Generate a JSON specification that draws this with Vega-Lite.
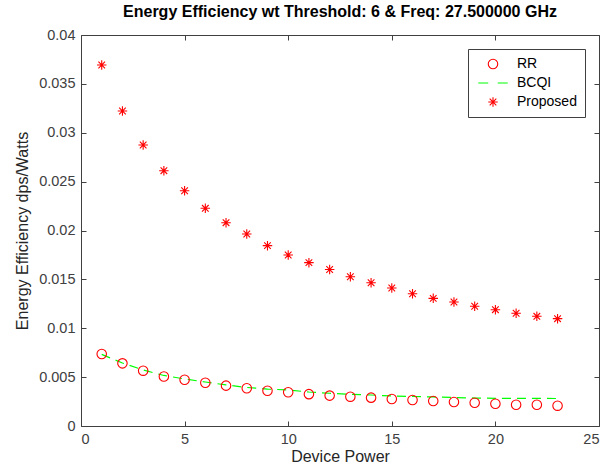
{
  "$schema": "https://vega.github.io/schema/vega-lite/v6.json",
  "width": 518,
  "height": 391,
  "autosize": {"type": "none"},
  "padding": {"left": 81, "top": 35, "right": 9, "bottom": 49},
  "background": "white",
  "config": {
    "view": {"stroke": null},
    "font": "Liberation Sans",
    "axis": {
      "grid": false,
      "domainColor": "#404040",
      "tickColor": "#404040",
      "labelColor": "#404040",
      "titleColor": "#262626",
      "labelFont": "Liberation Sans",
      "titleFont": "Liberation Sans",
      "labelFontSize": 14.5,
      "titleFontSize": 16,
      "titleFontWeight": "normal",
      "tickSize": -5,
      "labelPadding": 11
    },
    "legend": {
      "title": null,
      "orient": "top-right",
      "offset": 14,
      "padding": 7,
      "rowPadding": 5,
      "labelFontSize": 14,
      "labelFont": "Liberation Sans",
      "labelColor": "#000000",
      "strokeColor": "#404040",
      "fillColor": "#ffffff",
      "symbolSize": 90,
      "symbolStrokeWidth": 1.1
    }
  },
  "title": {
    "text": "Energy Efficiency wt Threshold: 6 & Freq: 27.500000 GHz",
    "font": "Liberation Sans",
    "fontSize": 16,
    "fontWeight": "bold",
    "color": "#000000",
    "offset": 7
  },
  "data": {
    "values": [
      {"p": 1, "series": "RR", "ee": 0.00737},
      {"p": 2, "series": "RR", "ee": 0.00641},
      {"p": 3, "series": "RR", "ee": 0.00566},
      {"p": 4, "series": "RR", "ee": 0.00506},
      {"p": 5, "series": "RR", "ee": 0.00473},
      {"p": 6, "series": "RR", "ee": 0.00443},
      {"p": 7, "series": "RR", "ee": 0.00413},
      {"p": 8, "series": "RR", "ee": 0.00386},
      {"p": 9, "series": "RR", "ee": 0.00360},
      {"p": 10, "series": "RR", "ee": 0.00345},
      {"p": 11, "series": "RR", "ee": 0.00326},
      {"p": 12, "series": "RR", "ee": 0.00311},
      {"p": 13, "series": "RR", "ee": 0.00300},
      {"p": 14, "series": "RR", "ee": 0.00290},
      {"p": 15, "series": "RR", "ee": 0.00276},
      {"p": 16, "series": "RR", "ee": 0.00266},
      {"p": 17, "series": "RR", "ee": 0.00256},
      {"p": 18, "series": "RR", "ee": 0.00246},
      {"p": 19, "series": "RR", "ee": 0.00238},
      {"p": 20, "series": "RR", "ee": 0.00228},
      {"p": 21, "series": "RR", "ee": 0.00218},
      {"p": 22, "series": "RR", "ee": 0.00218},
      {"p": 23, "series": "RR", "ee": 0.00208},
      {"p": 1, "series": "BCQI", "ee": 0.00733},
      {"p": 2, "series": "BCQI", "ee": 0.00644},
      {"p": 3, "series": "BCQI", "ee": 0.00573},
      {"p": 4, "series": "BCQI", "ee": 0.00517},
      {"p": 5, "series": "BCQI", "ee": 0.00481},
      {"p": 6, "series": "BCQI", "ee": 0.00450},
      {"p": 7, "series": "BCQI", "ee": 0.00420},
      {"p": 8, "series": "BCQI", "ee": 0.00394},
      {"p": 9, "series": "BCQI", "ee": 0.00378},
      {"p": 10, "series": "BCQI", "ee": 0.00368},
      {"p": 11, "series": "BCQI", "ee": 0.00348},
      {"p": 12, "series": "BCQI", "ee": 0.00335},
      {"p": 13, "series": "BCQI", "ee": 0.00324},
      {"p": 14, "series": "BCQI", "ee": 0.00317},
      {"p": 15, "series": "BCQI", "ee": 0.00307},
      {"p": 16, "series": "BCQI", "ee": 0.00302},
      {"p": 17, "series": "BCQI", "ee": 0.00297},
      {"p": 18, "series": "BCQI", "ee": 0.00292},
      {"p": 19, "series": "BCQI", "ee": 0.00286},
      {"p": 20, "series": "BCQI", "ee": 0.00283},
      {"p": 21, "series": "BCQI", "ee": 0.00283},
      {"p": 22, "series": "BCQI", "ee": 0.00283},
      {"p": 23, "series": "BCQI", "ee": 0.00281},
      {"p": 1, "series": "Proposed", "ee": 0.03693},
      {"p": 2, "series": "Proposed", "ee": 0.03222},
      {"p": 3, "series": "Proposed", "ee": 0.02875},
      {"p": 4, "series": "Proposed", "ee": 0.02612},
      {"p": 5, "series": "Proposed", "ee": 0.02407},
      {"p": 6, "series": "Proposed", "ee": 0.02227},
      {"p": 7, "series": "Proposed", "ee": 0.02080},
      {"p": 8, "series": "Proposed", "ee": 0.01964},
      {"p": 9, "series": "Proposed", "ee": 0.01845},
      {"p": 10, "series": "Proposed", "ee": 0.01749},
      {"p": 11, "series": "Proposed", "ee": 0.01671},
      {"p": 12, "series": "Proposed", "ee": 0.01601},
      {"p": 13, "series": "Proposed", "ee": 0.01527},
      {"p": 14, "series": "Proposed", "ee": 0.01466},
      {"p": 15, "series": "Proposed", "ee": 0.01412},
      {"p": 16, "series": "Proposed", "ee": 0.01353},
      {"p": 17, "series": "Proposed", "ee": 0.01306},
      {"p": 18, "series": "Proposed", "ee": 0.01269},
      {"p": 19, "series": "Proposed", "ee": 0.01225},
      {"p": 20, "series": "Proposed", "ee": 0.01190},
      {"p": 21, "series": "Proposed", "ee": 0.01153},
      {"p": 22, "series": "Proposed", "ee": 0.01122},
      {"p": 23, "series": "Proposed", "ee": 0.01098}
    ]
  },
  "layer": [
    {
      "transform": [{"filter": "datum.series === 'BCQI'"}],
      "mark": {"type": "line", "strokeWidth": 1.2, "strokeDash": [9, 6]},
      "encoding": {
        "x": {"field": "p", "type": "quantitative", "scale": {"domain": [0, 25], "nice": false},
              "axis": {"title": "Device Power", "values": [0, 5, 10, 15, 20, 25], "titlePadding": 3}},
        "y": {"field": "ee", "type": "quantitative", "scale": {"domain": [0, 0.04], "nice": false},
              "axis": {"title": "Energy Efficiency dps/Watts", "values": [0, 0.005, 0.01, 0.015, 0.02, 0.025, 0.03, 0.035, 0.04], "format": "~g", "titlePadding": 8}},
        "color": {"field": "series", "type": "nominal",
                  "scale": {"domain": ["RR", "BCQI", "Proposed"], "range": ["#ff0000", "#00ff00", "#ff0000"]}}
      }
    },
    {
      "transform": [{"filter": "datum.series !== 'BCQI'"}],
      "mark": {"type": "point", "filled": false, "size": 90, "strokeWidth": 1.1, "opacity": 1},
      "encoding": {
        "x": {"field": "p", "type": "quantitative",
              "axis": {"orient": "top", "labels": false, "title": null, "values": [0, 5, 10, 15, 20, 25]}},
        "y": {"field": "ee", "type": "quantitative",
              "axis": {"orient": "right", "labels": false, "title": null, "values": [0, 0.005, 0.01, 0.015, 0.02, 0.025, 0.03, 0.035, 0.04]}},
        "color": {"field": "series", "type": "nominal",
                  "scale": {"domain": ["RR", "BCQI", "Proposed"], "range": ["#ff0000", "#00ff00", "#ff0000"]},
                  "legend": {
                    "symbolOffset": 10,
                    "labelOffset": 17,
                    "padding": 8
                  }},
        "shape": {"field": "series", "type": "nominal",
                  "scale": {"domain": ["RR", "BCQI", "Proposed"],
                            "range": ["circle", "M-3.1,0L-1.0,0M1.0,0L3.1,0", "M-1,0L1,0M0,-1L0,1M-0.7,-0.7L0.7,0.7M-0.7,0.7L0.7,-0.7"]}}
      }
    }
  ],
  "resolve": {"axis": {"x": "independent", "y": "independent"}}
}
